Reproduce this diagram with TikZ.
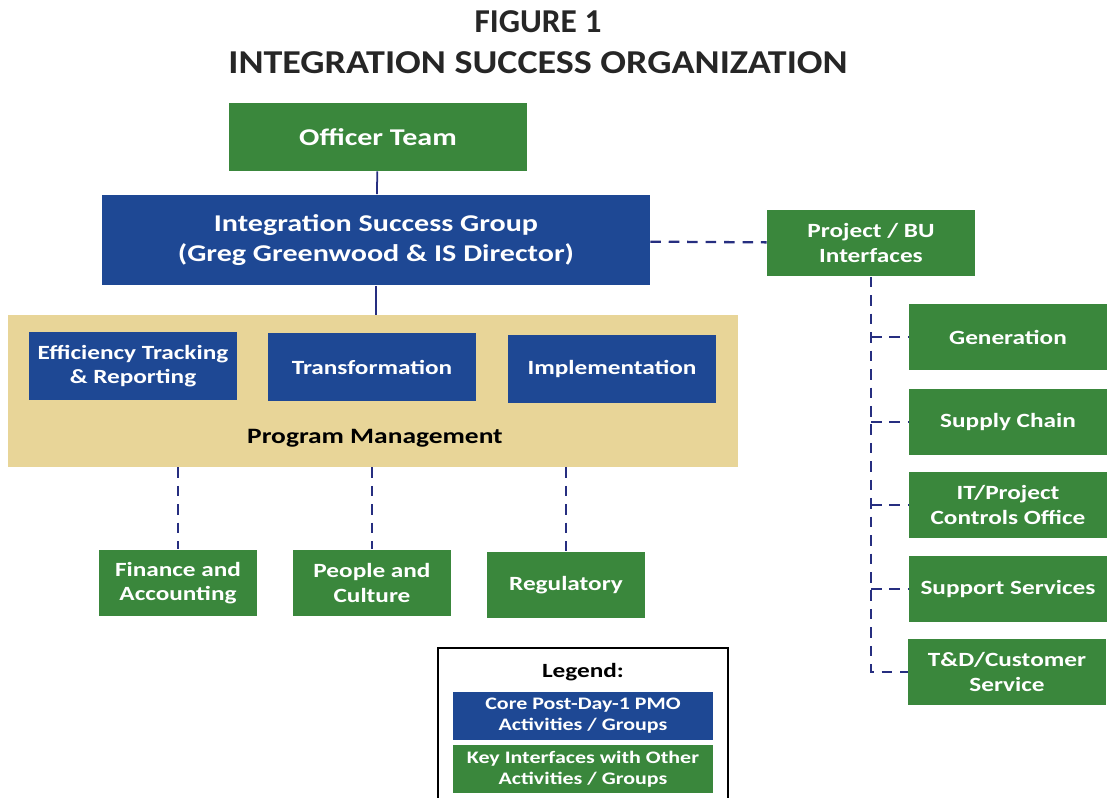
\documentclass[tikz,border=0pt]{standalone}
\usepackage{fontspec}
\setmainfont{Carlito}[FakeStretch=1.25]
\newfontfamily\titlefont{Carlito}[FakeStretch=1.14]
\newfontfamily\figfont{Carlito}
\usetikzlibrary{positioning}
\definecolor{isgreen}{RGB}{58,135,60}
\definecolor{isblue}{RGB}{30,72,148}
\definecolor{istan}{RGB}{232,213,152}
\definecolor{isline}{RGB}{38,46,128}
\tikzstyle{title} = [text=black!85, font=\titlefont\bfseries\fontsize{19pt}{22pt}\selectfont]
\tikzstyle{bigbox} = [rectangle, text centered, align=center, text=white, font=\bfseries\fontsize{13.7pt}{17pt}\selectfont]
\tikzstyle{core} = [rectangle, minimum width=4.16cm, minimum height=1.36cm, text centered, align=center, text=white, fill=isblue, font=\bfseries\fontsize{11.5pt}{14pt}\selectfont]
\tikzstyle{keyif} = [rectangle, minimum width=3.16cm, minimum height=1.34cm, text centered, align=center, text=white, fill=isgreen, font=\bfseries\fontsize{11.5pt}{14pt}\selectfont]
\tikzstyle{unit} = [keyif, minimum width=3.96cm]
\tikzstyle{legitem} = [rectangle, minimum width=5.2cm, minimum height=0.96cm, text centered, align=center, text=white, font=\bfseries\fontsize{10pt}{12pt}\selectfont]
\tikzstyle{solidlink} = [isline, line width=1pt]
\tikzstyle{dashlink} = [isline, line width=1.3pt, dash pattern=on 6pt off 4.5pt]

\begin{document}
\begin{tikzpicture}[x=0.02cm, y=-0.02cm]
        \useasboundingbox (0,0) rectangle (1107,798);
        \node (fig) at (538,22) [title, font=\figfont\bfseries\fontsize{19pt}{22pt}\selectfont] {FIGURE 1};
        \node (figname) at (538,63) [title] {INTEGRATION SUCCESS ORGANIZATION};
        \node (officer) at (378,137) [bigbox, fill=isgreen, minimum width=5.96cm, minimum height=1.36cm] {Officer Team};
        \node (isg) at (376,240) [bigbox, fill=isblue, minimum width=10.96cm, minimum height=1.82cm] {Integration Success Group\\(Greg Greenwood \& IS Director)};
        \node (pbu) at (871,243) [keyif, minimum width=4.16cm] {Project / BU\\Interfaces};
        \node (pm) at (373,391) [rectangle, fill=istan, minimum width=14.6cm, minimum height=3.04cm] {};
        \node (pmlabel) at (375,438) [font=\bfseries\fontsize{12.5pt}{15pt}\selectfont] {Program Management};
        \node (eff) at (133,366) [core] {Efficiency Tracking\\\& Reporting};
        \node (trans) at (372,367) [core] {Transformation};
        \node (impl) at (612,369) [core] {Implementation};
        \node (fin) at (178,583) [keyif] {Finance and\\Accounting};
        \node (people) at (372,583) [keyif] {People and\\Culture};
        \node (reg) at (566,585) [keyif] {Regulatory};
        \node (gen) at (1008,337) [unit] {Generation};
        \node (supply) at (1008,422) [unit] {Supply Chain};
        \node (itpco) at (1008,505) [unit] {IT/Project\\Controls Office};
        \node (support) at (1008,589) [unit] {Support Services};
        \node (tnd) at (1007,672) [unit] {T\&D/Customer\\Service};
        % legend
        \node (legend) at (583,647) [anchor=north, draw=black, line width=1.2pt, fill=white, minimum width=5.8cm, minimum height=3.2cm] {};
        \node (legtitle) at (583,672) [font=\bfseries\fontsize{11.5pt}{14pt}\selectfont] {Legend:};
        \node (legcore) at (583,716) [legitem, fill=isblue] {Core Post-Day-1 PMO\\Activities / Groups};
        \node (legkey) at (583,769) [legitem, fill=isgreen] {Key Interfaces with Other\\Activities / Groups};
        % links
        \draw [solidlink] (officer) -- (isg);
        \draw [solidlink] (isg.south) -- (isg.south |- pm.north);
        \draw [dashlink] (isg) -- (pbu);
        \draw [dashlink] (pm.south -| fin) -- (fin);
        \draw [dashlink] (pm.south -| people) -- (people);
        \draw [dashlink] (pm.south -| reg) -- (reg);
        \draw [dashlink] (pbu.south) -- (pbu.south |- tnd) -- (tnd.west);
        \foreach \u in {gen, supply, itpco, support}
            \draw [dashlink] (pbu.south |- \u) -- (\u.west);
    \end{tikzpicture}
\end{document}
